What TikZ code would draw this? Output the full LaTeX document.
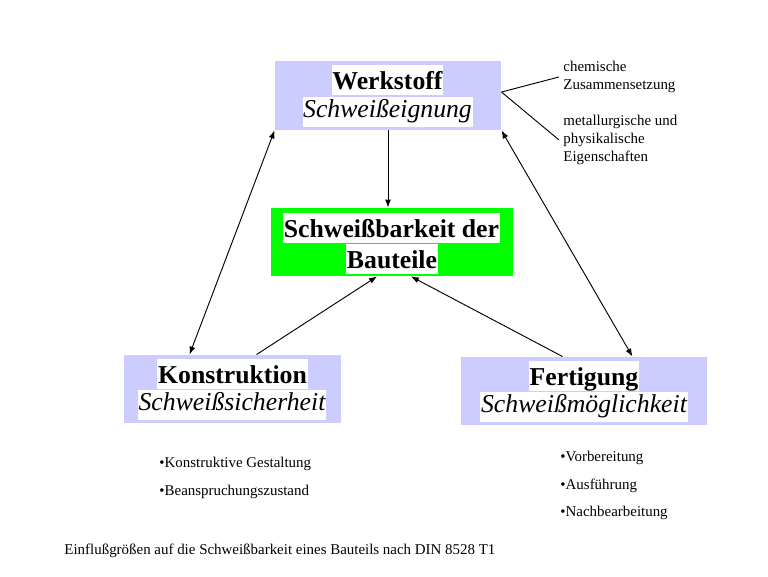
\documentclass[tikz,border=0pt]{standalone}
\usepackage{fontspec}
\setmainfont{Liberation Serif}
\usetikzlibrary{arrows.meta}
\definecolor{lavendel}{RGB}{204,204,255}
\definecolor{gruen}{RGB}{0,255,0}
\begin{document}
\begin{tikzpicture}[x=0.75pt,y=-0.75pt,line width=0.7pt,>={Latex[length=6pt,width=4.5pt]},
    box/.style={inner sep=0pt,minimum height=51pt},
    titel/.style={fill=white,inner xsep=0.5pt,inner ysep=0pt,text height=18.5pt,text depth=4pt,font=\fontsize{19.3}{23}\selectfont\bfseries},
    kursiv/.style={titel,text height=15.5pt,text depth=7pt,font=\fontsize{19.3}{23}\selectfont\itshape},
    klein/.style={inner sep=0pt,anchor=north west,align=left,font=\fontsize{11.2}{13.5}\selectfont},
    liste/.style={klein,font=\fontsize{11.2}{20.4}\selectfont}]
                \useasboundingbox (0,0) rectangle (768,576);
                \node[box,fill=lavendel,minimum width=169.5pt,minimum height=51.75pt] (W) at (388,95.5) {};
                \node[titel] (Wa) at (387.5,80) {Werkstoff};
                \node[kursiv] (Wb) at (387.5,112) {Schweißeignung};

                \node[box,fill=gruen,minimum width=181.5pt] (S) at (392,242) {};
                \node[titel] (Sa) at (391.5,228) {Schweißbarkeit der};
                \node[titel] (Sb) at (392,259) {Bauteile};

                \node[box,fill=lavendel,minimum width=162.75pt] (K) at (232.5,389) {};
                \node[titel] (Ka) at (232.5,373.5) {Konstruktion};
                \node[kursiv] (Kb) at (232,405) {Schweißsicherheit};

                \node[box,fill=lavendel,minimum width=184.5pt] (F) at (584,391) {};
                \node[titel] (Fa) at (584,376) {Fertigung};
                \node[kursiv] (Fb) at (584,406.7) {Schweißmöglichkeit};

                \node[klein,inner sep=3pt] (C) at (559,56.7) {chemische\\Zusammensetzung};
                \node[klein,inner sep=3pt] (M) at (559,110.7) {metallurgische und\\physikalische\\Eigenschaften};

                \node[liste] (KL) at (159,457) {•Konstruktive Gestaltung\\•Beanspruchungszustand};
                \node[liste] (FL) at (560,451) {•Vorbereitung\\•Ausführung\\•Nachbearbeitung};
                \node[klein,anchor=base west] (T) at (64,554) {Einflußgrößen auf die Schweißbarkeit eines Bauteils nach DIN 8528 T1};

                \draw[->] (W.south) -- (W.south |- S.north);
                \draw[<->] (W.south west) -- ([xshift=49.5pt]K.north west);
                \draw[<->] (W.south east) -- ([xshift=-56.25pt]F.north east);
                \draw[->] ([xshift=99.75pt]K.north west) -- ([xshift=-11.25pt]S.south);
                \draw[->] ([xshift=76.5pt]F.north west) -- ([xshift=14.25pt]S.south);
                \draw ([yshift=2.6pt]W.east) -- (C.west);
                \draw ([yshift=2.6pt]W.east) -- (M.west);
            \end{tikzpicture}
\end{document}
